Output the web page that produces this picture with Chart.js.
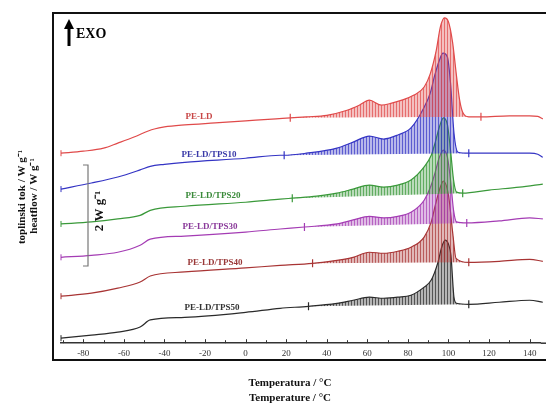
<!DOCTYPE html>
<html>
<head>
<meta charset="utf-8">
<script src="https://cdn.jsdelivr.net/npm/chart.js@4.4.0/dist/chart.umd.min.js"></script>
<style>
html, body { margin: 0; padding: 0; background: #fff; }
#wrap { width: 546px; height: 406px; }
</style>
</head>
<body>
<div id="wrap"><canvas id="chart" width="546" height="406"></canvas></div>
<script>
// DSC curves, temperature in °C, heat flow in W/g (curves shifted for display)
let names = ["PE-LD", "PE-LD/TPS10", "PE-LD/TPS20", "PE-LD/TPS30", "PE-LD/TPS40", "PE-LD/TPS50"];

let ld_t  = [-91,-80,-70,-63,-55,-48,-45,-40,-30,-15,0,15,22,30,40,50,56,61,67,72,77,83,88,91,94,96,98,100,102,104,105.5,107,110,116,130,140,144,146.5];
let ld_hf = [3.76,3.80,3.86,3.96,4.08,4.20,4.24,4.28,4.32,4.36,4.40,4.44,4.46,4.48,4.51,4.61,4.71,4.81,4.71,4.75,4.81,4.91,5.07,5.33,5.80,6.26,6.44,6.36,5.96,5.27,4.81,4.57,4.48,4.48,4.50,4.50,4.49,4.44];

let tps10_t  = [-91,-76,-63,-52,-47,-40,-30,0,17,19,30,45,53,61,68,75,81.5,88,91,93,95.5,97.3,99.5,101,102.7,104.7,110,125,140,144,146.5];
let tps10_hf = [3.05,3.17,3.29,3.43,3.50,3.54,3.58,3.66,3.72,3.72,3.76,3.86,3.98,4.10,4.04,4.12,4.26,4.67,4.95,5.27,5.60,5.74,5.66,5.15,4.16,3.78,3.76,3.76,3.76,3.74,3.68];

let tps20_t  = [-91,-76,-63,-52,-47,-30,0,17,23,35,45,53,61,68,75,81.5,88,91.5,93.5,95.5,97.5,99.5,101,102.5,104,107,120,135,146.5];
let tps20_hf = [2.36,2.40,2.46,2.53,2.63,2.71,2.79,2.85,2.87,2.91,2.97,3.05,3.13,3.09,3.13,3.23,3.49,3.72,3.98,4.28,4.46,4.32,3.82,3.23,2.99,2.97,3.03,3.09,3.15];

let tps30_t  = [-91,-76,-63,-52,-47,-30,0,17,29,45,53,61,68,75,81.5,88,91.5,93.5,95.5,97.5,99.5,101,102.5,104,109,125,140,146.5];
let tps30_hf = [1.70,1.74,1.80,1.94,2.06,2.12,2.20,2.26,2.30,2.36,2.44,2.51,2.48,2.51,2.59,2.83,3.13,3.39,3.68,3.82,3.68,3.23,2.63,2.40,2.38,2.42,2.48,2.46];

let tps40_t  = [-91,-76,-63,-52,-47,-30,0,17,33,45,53,61,68,75,81.5,88,91.5,93.5,95.5,97.5,100,102.2,103.7,110,125,140,146.5];
let tps40_hf = [0.93,0.99,1.09,1.21,1.33,1.41,1.49,1.54,1.58,1.64,1.70,1.80,1.78,1.82,1.90,2.10,2.40,2.73,3.03,3.21,2.93,2.14,1.68,1.60,1.62,1.66,1.62];

let tps50_t  = [-91,-76,-63,-52,-47,-30,0,17,31,45,53,61,68,75,81.5,88,91.5,94.8,96.5,98.3,100,101.2,102.7,104,110,125,140,146.5];
let tps50_hf = [0.10,0.16,0.22,0.32,0.46,0.51,0.61,0.69,0.73,0.79,0.85,0.91,0.89,0.91,0.95,1.11,1.25,1.60,1.88,2.04,1.96,1.74,0.91,0.79,0.77,0.81,0.85,0.81];

// integration limits (baseline ticks) for each melting peak
let peak_limits = [[22,116],[19,110],[23,107],[29,109],[33,110],[31,110]];

let x_ticks = [-90,-80,-70,-60,-50,-40,-30,-20,-10,0,10,20,30,40,50,60,70,80,90,100,110,120,130,140];

let all_t  = [ld_t, tps10_t, tps20_t, tps30_t, tps40_t, tps50_t];
let all_hf = [ld_hf, tps10_hf, tps20_hf, tps30_hf, tps40_hf, tps50_hf];

let line_colors = ["#e04a4a", "#3434c4", "#3a993a", "#a43cb4", "#a83434", "#2a2a2a"];
let fill_rgb = ["224,74,74", "52,52,196", "58,153,58", "164,60,180", "168,52,52", "42,42,42"];
let label_colors = ["#c84848", "#3a3aa8", "#3a8a3a", "#8a3a9a", "#9a3838", "#333333"];

function hatch(rgb) {
    let c = document.createElement('canvas');
    c.width = 3; c.height = 1;
    let g = c.getContext('2d');
    g.fillStyle = 'rgba(' + rgb + ',0.35)';
    g.fillRect(0, 0, 3, 1);
    g.fillStyle = 'rgba(' + rgb + ',0.7)';
    g.fillRect(0, 0, 1, 1);
    return g.createPattern(c, 'repeat');
}

let datasets = [];
for (let i = 0; i < names.length; i++) {
    let t = all_t[i], hf = all_hf[i];
    let pts = t.map((v, k) => ({x: v, y: hf[k]}));
    let lo = peak_limits[i][0], hi = peak_limits[i][1];
    let peak = pts.filter(p => p.x >= lo && p.x <= hi);
    let base = [peak[0], peak[peak.length - 1]];

    datasets.push({
        label: names[i],
        data: pts,
        clip: false,
        borderColor: line_colors[i],
        borderWidth: 1.2,
        cubicInterpolationMode: 'monotone',
        pointRadius: ctx => ctx.dataIndex === 0 ? 3 : 0,
        pointStyle: 'line',
        rotation: 90,
        pointBorderColor: line_colors[i],
        pointBorderWidth: 1,
        fill: false,
    });
    datasets.push({
        label: names[i] + ' peak',
        data: peak,
        borderColor: 'transparent',
        borderWidth: 0,
        pointRadius: 0,
        cubicInterpolationMode: 'monotone',
        backgroundColor: hatch(fill_rgb[i]),
        fill: '+1',
    });
    datasets.push({
        label: names[i] + ' baseline',
        data: base,
        borderColor: 'transparent',
        borderWidth: 0,
        tension: 0,
        pointStyle: 'line',
        rotation: 90,
        pointRadius: 4,
        pointBorderColor: line_colors[i],
        pointBorderWidth: 1.2,
        fill: false,
    });
}

let decorations = {
    id: 'decorations',
    afterDraw: (chart) => {
        const {ctx, scales} = chart;
        const x = scales.x;
        ctx.save();

        // frame
        ctx.strokeStyle = '#111';
        ctx.lineWidth = 2;
        ctx.strokeRect(53, 13, 600, 347);

        // axis line continues to the right edge
        const yb = chart.chartArea.bottom;
        ctx.strokeStyle = '#333';
        ctx.lineWidth = 1.5;
        ctx.beginPath();
        ctx.moveTo(chart.chartArea.right, yb);
        ctx.lineTo(546, yb);
        ctx.stroke();

        // inward tick marks on the axis line
        ctx.lineWidth = 1;
        x_ticks.forEach(v => {
            const px = Math.round(x.getPixelForValue(v)) + 0.5;
            const len = v % 20 === 0 ? 4 : 3;
            ctx.beginPath();
            ctx.moveTo(px, yb);
            ctx.lineTo(px, yb - len);
            ctx.stroke();
        });

        // curve labels
        const label_pos = [[199,117],[209,155],[213,196],[210,227],[215,263],[212,308]];
        ctx.font = 'bold 9px "Liberation Serif"';
        ctx.textAlign = 'center';
        ctx.textBaseline = 'middle';
        names.forEach((n, i) => {
            ctx.fillStyle = label_colors[i];
            ctx.fillText(n, label_pos[i][0], label_pos[i][1]);
        });

        // EXO arrow
        ctx.fillStyle = '#000';
        ctx.strokeStyle = '#000';
        ctx.lineWidth = 3;
        ctx.beginPath();
        ctx.moveTo(69, 46);
        ctx.lineTo(69, 26);
        ctx.stroke();
        ctx.beginPath();
        ctx.moveTo(69, 19);
        ctx.lineTo(64, 29);
        ctx.lineTo(74, 29);
        ctx.closePath();
        ctx.fill();
        ctx.font = 'bold 14px "Liberation Serif"';
        ctx.textAlign = 'left';
        ctx.fillText('EXO', 76, 34);

        // scale bar
        ctx.strokeStyle = '#777';
        ctx.lineWidth = 1.2;
        ctx.beginPath();
        ctx.moveTo(83, 165);
        ctx.lineTo(88, 165);
        ctx.lineTo(88, 266);
        ctx.lineTo(83, 266);
        ctx.stroke();

        ctx.save();
        ctx.translate(100, 211);
        ctx.rotate(-Math.PI / 2);
        ctx.textAlign = 'center';
        ctx.fillStyle = '#111';
        ctx.font = 'bold 13px "Liberation Serif"';
        ctx.fillText('2 W g\u207B\u00B9', 0, 0);
        ctx.restore();

        // y axis titles
        ctx.font = 'bold 11px "Liberation Serif"';
        ctx.fillStyle = '#111';
        ctx.textAlign = 'center';
        [['toplinski tok / W g\u207B\u00B9', 22, 197], ['heatflow / W g\u207B\u00B9', 34, 196]].forEach(a => {
            ctx.save();
            ctx.translate(a[1], a[2]);
            ctx.rotate(-Math.PI / 2);
            ctx.fillText(a[0], 0, 0);
            ctx.restore();
        });

        // x axis titles
        ctx.fillText('Temperatura / \u00B0C', 290, 383);
        ctx.fillText('Temperature / \u00B0C', 290, 398);

        ctx.restore();
    }
};

new Chart(document.getElementById('chart'), {
    type: 'line',
    data: {datasets: datasets},
    options: {
        responsive: false,
        animation: false,
        devicePixelRatio: 1,
        layout: {padding: {left: 61, right: 0, top: 13, bottom: 42}},
        scales: {
            x: {
                type: 'linear',
                min: -91,
                max: 145.5,
                afterBuildTicks: (scale) => { scale.ticks = x_ticks.map(v => ({value: v})); },
                grid: {display: false, drawTicks: false},
                border: {display: true, color: '#333', width: 1.5},
                ticks: {
                    autoSkip: false,
                    maxRotation: 0,
                    padding: 5,
                    color: '#333',
                    font: {family: '"Liberation Serif"', size: 9},
                    callback: (v) => v % 20 === 0 ? String(v) : '',
                },
            },
            y: {
                display: false,
                min: 0,
                max: 6.535,
            },
        },
        plugins: {
            legend: {display: false},
            tooltip: {enabled: false},
        },
    },
    plugins: [decorations],
});
</script>
</body>
</html>
